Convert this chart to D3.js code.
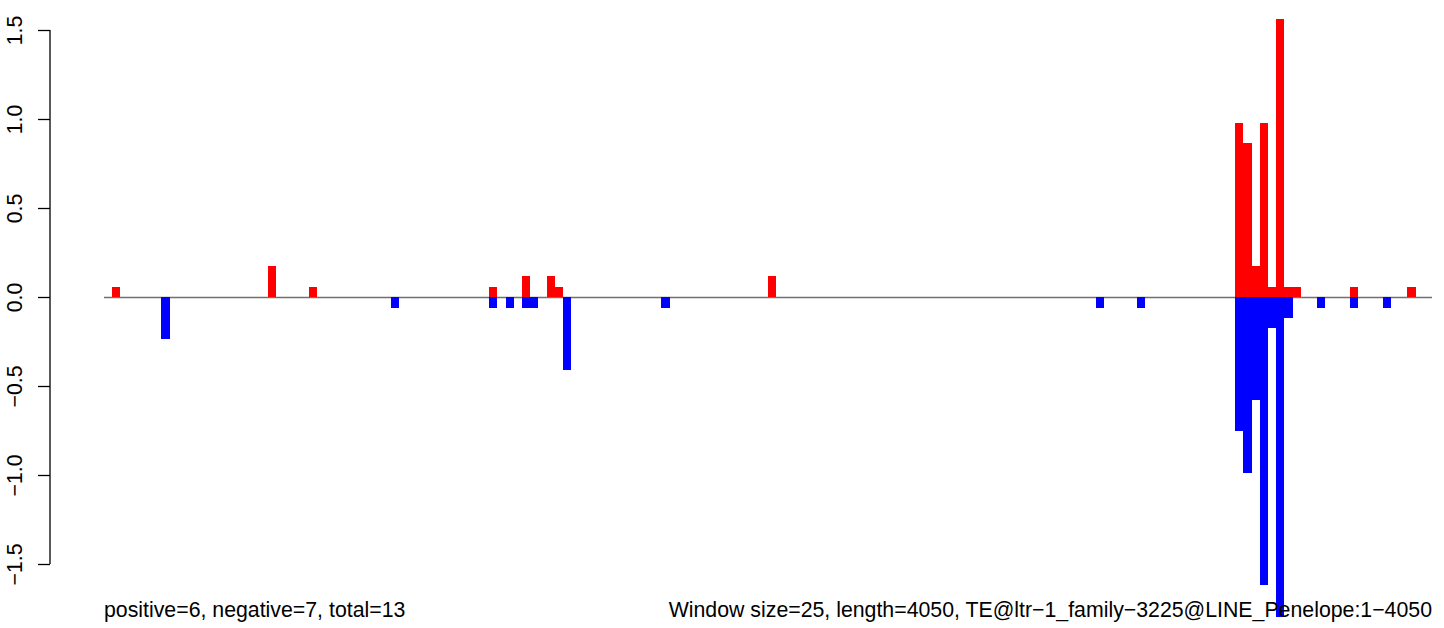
<!DOCTYPE html>
<html>
<head>
<meta charset="utf-8">
<script src="https://cdn.jsdelivr.net/npm/d3@7"></script>
<style>
  html, body { margin: 0; padding: 0; background: #fff; }
  svg { display: block; }
  text { font-family: "Liberation Sans", Arial, Helvetica, sans-serif; fill: #000; }
</style>
</head>
<body>
<svg id="chart" width="1444" height="628"></svg>
<script>
// ---- data (window index -> value) ----
const windowCount = 162;
const posWindows = [1, 20, 25, 47, 51, 54, 55, 81, 138, 139, 140, 141, 142, 143, 144, 145, 152, 159];
const posValues  = [0.056, 0.174, 0.056, 0.056, 0.118, 0.118, 0.056, 0.118, 0.98, 0.865, 0.174, 0.98, 0.056, 1.56, 0.056, 0.056, 0.056, 0.056];
const negWindows = [7, 35, 47, 49, 51, 52, 56, 68, 121, 126, 138, 139, 140, 141, 142, 143, 144, 148, 152, 156];
const negValues  = [-0.236, -0.06, -0.06, -0.06, -0.06, -0.06, -0.408, -0.06, -0.06, -0.06, -0.75, -0.99, -0.58, -1.62, -0.174, -1.80, -0.118, -0.06, -0.06, -0.06];
const yTicks = [-1.5, -1.0, -0.5, 0.0, 0.5, 1.0, 1.5];
const leftLabel = "positive=6, negative=7, total=13";
const rightLabel = "Window size=25, length=4050, TE@ltr\u22121_family\u22123225@LINE_Penelope:1\u22124050";

const svg = d3.select("#chart");
const x = d3.scaleLinear().domain([0, windowCount]).range([104, 1432]);
const y = d3.scaleLinear().domain([-1.5, 1.5]).range([564, 30]);

// zero line
svg.append("line")
  .attr("x1", x(0)).attr("x2", x(windowCount))
  .attr("y1", y(0) + 0.5).attr("y2", y(0) + 0.5)
  .attr("stroke", "#707070").attr("stroke-width", 1.3);

const pos = posWindows.map((w, i) => ({w, v: posValues[i]}));
const neg = negWindows.map((w, i) => ({w, v: negValues[i]}));

svg.append("g").selectAll("rect").data(pos).join("rect")
  .attr("x", d => x(d.w)).attr("width", d => x(d.w + 1) - x(d.w))
  .attr("y", d => y(d.v)).attr("height", d => y(0) - y(d.v))
  .attr("fill", "#ff0000").attr("shape-rendering", "crispEdges");

svg.append("g").selectAll("rect").data(neg).join("rect")
  .attr("x", d => x(d.w)).attr("width", d => x(d.w + 1) - x(d.w))
  .attr("y", y(0)).attr("height", d => y(d.v) - y(0))
  .attr("fill", "#0000ff").attr("shape-rendering", "crispEdges");

// y axis (R style)
const fmt = v => (v < 0 ? "\u2212" : "") + Math.abs(v).toFixed(1);
const axis = d3.axisLeft(y).tickValues(yTicks).tickFormat(fmt).tickSize(12).tickPadding(0);
const gAxis = svg.append("g").attr("transform", "translate(50,0)").call(axis);
gAxis.select(".domain").attr("d", `M0,${y(1.5)}V${y(-1.5)}`).attr("stroke", "#000").attr("stroke-width", 1.3);
gAxis.selectAll(".tick line").attr("stroke", "#000").attr("stroke-width", 1.3);
gAxis.selectAll(".tick text")
  .attr("x", null).attr("dy", null)
  .attr("transform", "translate(-28,0) rotate(-90)")
  .attr("text-anchor", "middle")
  .attr("font-size", 21.3)
  .style("font-family", "'Liberation Sans', Arial, sans-serif");

// bottom texts
svg.append("text").attr("x", 104).attr("y", 617)
  .attr("font-size", 21.3).attr("text-anchor", "start").text(leftLabel);
svg.append("text").attr("x", 1432).attr("y", 617)
  .attr("font-size", 21.3).attr("text-anchor", "end").text(rightLabel);
</script>
</body>
</html>
